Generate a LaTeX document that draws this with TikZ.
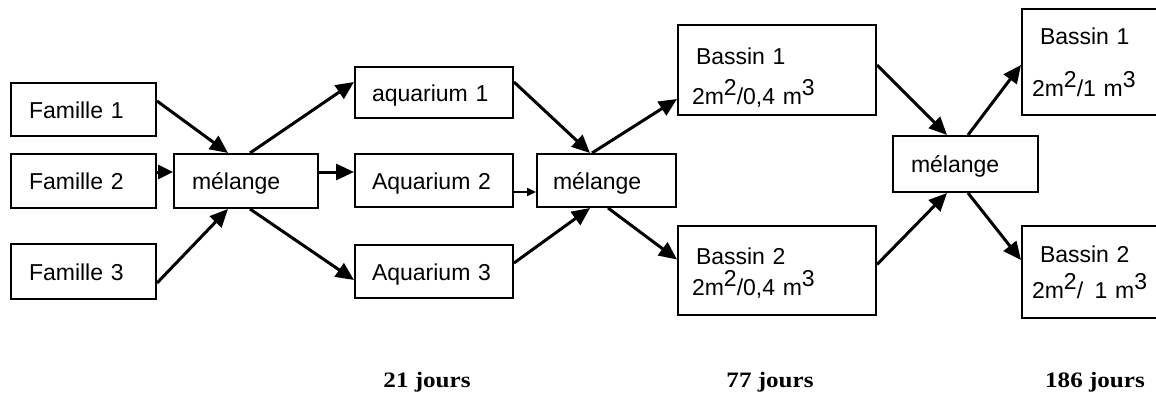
\documentclass[tikz,border=0pt]{standalone}
\usepackage{fontspec}
\usetikzlibrary{arrows.meta}
\newfontfamily\labfont{Liberation Sans}
\newfontfamily\dayfont[FakeStretch=1.14]{Liberation Serif}
\newcommand{\upnum}[1]{\raisebox{9pt}{#1}}
\tikzset{
  box/.style={draw, line width=2pt, rectangle, inner xsep=18pt, inner ysep=0pt,
    align=left, font=\labfont\fontsize{23}{27}\selectfont},
  arr/.style={line width=3pt, -{Triangle[length=18pt,width=16pt]}},
  sarr/.style={line width=1.8pt, -{Triangle[length=9pt,width=8pt]}},
  day/.style={font=\dayfont\bfseries\fontsize{22}{26}\selectfont, anchor=base, inner sep=0pt}
}
\begin{document}
\begin{tikzpicture}[x=1pt,y=-1pt]
\useasboundingbox (0,0) rectangle (1156,396);
% column 1
\node[box, minimum width=145pt, minimum height=53pt, text width=109pt, text height=17pt, text depth=0pt] (f1) at (83.5,109.5) {Famille 1};
\node[box, minimum width=145pt, minimum height=54pt, text width=109pt, text height=17pt, text depth=0pt] (f2) at (83.5,181) {Famille 2};
\node[box, minimum width=145pt, minimum height=55pt, text width=109pt, text height=17pt, text depth=0pt] (f3) at (83.5,271.5) {Famille 3};
\node[box, minimum width=144pt, minimum height=54pt, text width=108pt, text height=17pt, text depth=-5pt] (m1) at (246,181) {mélange};
% aquariums
\node[box, minimum width=158pt, minimum height=51pt, text width=124pt, inner xsep=17pt, text height=17pt, text depth=0pt] (a1) at (434,92.5) {aquarium 1};
\node[box, minimum width=158pt, minimum height=53pt, text width=124pt, inner xsep=17pt, text height=17pt, text depth=0pt] (a2) at (434,180.5) {Aquarium 2};
\node[box, minimum width=158pt, minimum height=53pt, text width=124pt, inner xsep=17pt, text height=17pt, text depth=0pt] (a3) at (434,271.5) {Aquarium 3};
\node[box, minimum width=139pt, minimum height=53pt, text width=107pt, inner xsep=16pt, text height=17pt, text depth=-5pt] (m2) at (606.5,180.5) {mélange};
% bassins
\node[box, minimum width=198pt, minimum height=90pt, text width=162pt] (b1) at (777,70) {\rule{0pt}{31pt}Bassin 1\\[13pt]\hspace*{-4pt}2m\upnum{2}/0,4 m\upnum{3}};
\node[box, minimum width=198pt, minimum height=89pt, text width=162pt] (b2) at (777,270) {\rule{0pt}{23pt}Bassin 2\\[4pt]\hspace*{-4pt}2m\upnum{2}/0,4 m\upnum{3}};
\node[box, minimum width=145pt, minimum height=56pt, text width=109pt, text height=17pt, text depth=-5pt] (m3) at (965.5,164) {mélange};
\node[box, minimum width=150pt, minimum height=106pt, text width=114pt] (r1) at (1097,62) {Bassin 1\\[25pt]\hspace*{-8pt}2m\upnum{2}/1 m\upnum{3}};
\node[box, minimum width=150pt, minimum height=92pt, text width=114pt] (r2) at (1097,272) {Bassin 2\\[9pt]\hspace*{-8pt}2m\upnum{2}/ \,1 m\upnum{3}};
% connectors
\draw[arr] ([yshift=8.5pt]f1.east) -- ([xshift=-18pt]m1.north);
\draw[arr, -{Triangle[length=15pt,width=14pt]}] ([yshift=9pt]f2.east) -- ([yshift=9pt]m1.west);
\draw[arr] ([yshift=-11.5pt]f3.east) -- ([xshift=-18pt]m1.south);
\draw[arr] ([xshift=4pt]m1.north) -- ([yshift=10.5pt]a1.west);
\draw[arr] ([yshift=9pt]m1.east) -- ([yshift=8.5pt]a2.west);
\draw[arr] ([xshift=4pt]m1.south) -- ([yshift=-8.5pt]a3.west);
\draw[arr] ([yshift=10.5pt]a1.east) -- ([xshift=-16.5pt]m2.north);
\draw[sarr] ([yshift=-11.5pt]a2.east) -- ([yshift=-11.5pt]m2.west);
\draw[arr] ([yshift=8.5pt]a3.east) -- ([xshift=-16.5pt]m2.south);
\draw[arr] ([xshift=-14.5pt]m2.north) -- ([yshift=-29pt]b1.west);
\draw[arr] ([xshift=1.5pt]m2.south) -- ([yshift=10.5pt]b2.west);
\draw[arr] ([yshift=5pt]b1.east) -- ([xshift=-18.5pt]m3.north);
\draw[arr] ([yshift=5.5pt]b2.east) -- ([xshift=-18.5pt]m3.south);
\draw[arr] ([xshift=2.5pt]m3.north) -- ([yshift=-3pt]r1.west);
\draw[arr] ([xshift=2.5pt]m3.south) -- ([yshift=12pt]r2.west);
% durations
\node[day] (d1) at (427,387) {21 jours};
\node[day] (d2) at (770,387) {77 jours};
\node[day] (d3) at (1095,387) {186 jours};
\end{tikzpicture}
\end{document}
